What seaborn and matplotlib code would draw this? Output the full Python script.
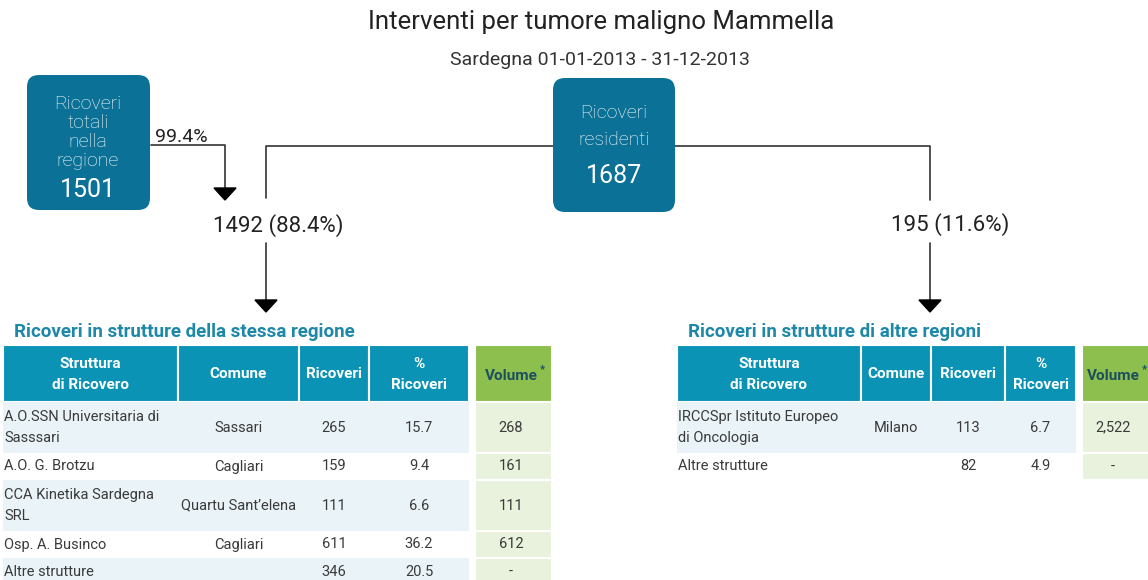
import matplotlib
matplotlib.use("Agg")
import matplotlib.pyplot as plt
from matplotlib.patches import FancyBboxPatch, Rectangle, Polygon
import seaborn as sns

# -----------------------------
# DATA
# -----------------------------
title = "Interventi per tumore maligno Mammella"
subtitle = "Sardegna 01-01-2013 - 31-12-2013"

totale_regione = 1501
pct_regione = 99.4
residenti = 1687
stessa_n = 1492
stessa_pct = 88.4
altre_n = 195
altre_pct = 11.6

header = ["Struttura\ndi Ricovero", "Comune", "Ricoveri", "%\nRicoveri"]

left_struttura = ["A.O.SSN Universitaria di\nSasssari", "A.O. G. Brotzu",
                  "CCA Kinetika Sardegna\nSRL", "Osp. A. Businco", "Altre strutture"]
left_comune = ["Sassari", "Cagliari", "Quartu Sant\u2019elena", "Cagliari", ""]
left_ricoveri = [265, 159, 111, 611, 346]
left_pct = [15.7, 9.4, 6.6, 36.2, 20.5]
left_volume = ["268", "161", "111", "612", "-"]

right_struttura = ["IRCCSpr Istituto Europeo\ndi Oncologia", "Altre strutture"]
right_comune = ["Milano", ""]
right_ricoveri = [113, 82]
right_pct = [6.7, 4.9]
right_volume = ["2,522", "-"]

# -----------------------------
# STYLE
# -----------------------------
sns.set_theme(style="white")
plt.rcParams['font.family'] = ['Roboto', 'DejaVu Sans']

BOX = "#0b7196"
HEAD = "#0a93b5"
GREEN = "#8dbf4e"
GREEN_L = "#e9f2dc"
ROW_L = "#eaf4f8"
TITLE_C = "#1e88a8"
TXT = "#3a3a3a"

fig = plt.figure(figsize=(11.48, 5.80), dpi=100)
ax = fig.add_axes([0, 0, 1, 1])
ax.set_xlim(0, 1148)
ax.set_ylim(580, 0)
ax.axis("off")

# -----------------------------
# TITLES
# -----------------------------
ax.text(601, 22, title, ha="center", va="center", fontsize=18.5, color="#222222")
ax.text(600, 60, subtitle, ha="center", va="center", fontsize=14,
        color="#333333")

# -----------------------------
# FLOW LINES
# -----------------------------
lc = "#333333"


def arrow_head(x, y):
    ax.add_patch(Polygon([[x - 11, y - 12], [x + 11, y - 12], [x, y]],
                         closed=True, color="black", zorder=3))


ax.plot([151, 225, 225], [145, 145, 188], color=lc, lw=1.2)
arrow_head(225, 200)
ax.text(181, 142, f"{pct_regione}%", ha="center", va="baseline",
        fontsize=14, color="#222222")

ax.plot([266, 266, 930, 930], [198, 146, 146, 200], color=lc, lw=1.2, zorder=1)
ax.plot([266, 266], [243, 300], color=lc, lw=1.2)
arrow_head(266, 312)
ax.plot([930, 930], [243, 300], color=lc, lw=1.2)
arrow_head(930, 312)

ax.text(278, 226, f"{stessa_n} ({stessa_pct}%)", ha="center", va="center",
        fontsize=16, color="#222222")
ax.text(950, 225, f"{altre_n} ({altre_pct}%)", ha="center", va="center",
        fontsize=16, color="#222222")

# -----------------------------
# BOXES
# -----------------------------
for x0, y0, w, h in [(27, 75, 123, 135), (553, 78, 122, 134)]:
    ax.add_patch(FancyBboxPatch((x0 + 12, y0 + 12), w - 24, h - 24,
                                boxstyle="round,pad=12", fc=BOX, ec="none",
                                zorder=2))

for i, s in enumerate(["Ricoveri", "totali", "nella", "regione"]):
    ax.text(88, 104 + i * 19, s, ha="center", va="center", fontsize=14,
            color="white", fontweight="light", zorder=3)
ax.text(88, 190, str(totale_regione), ha="center", va="center",
        fontsize=18, color="white", zorder=3)

ax.text(614, 113, "Ricoveri", ha="center", va="center", fontsize=14,
        color="white", fontweight="light", zorder=3)
ax.text(614, 140, "residenti", ha="center", va="center", fontsize=14,
        color="white", fontweight="light", zorder=3)
ax.text(614, 176, str(residenti), ha="center", va="center",
        fontsize=18, color="white", zorder=3)


# -----------------------------
# TABLES
# -----------------------------
def draw_table(x_edges, vol_edge, vol_cx, title_x, names, comuni, ric, pct, vol, label):
    ax.text(title_x, 332, label, ha="left", va="center", fontsize=13.5,
            color=TITLE_C, fontweight="semibold")
    top, head_h = 345, 57
    # header
    for j, htxt in enumerate(header):
        xa, xb = x_edges[j], x_edges[j + 1]
        ax.add_patch(Rectangle((xa, top), xb - xa, head_h, fc=HEAD,
                               ec="white", lw=1.5))
        ax.text((xa + xb) / 2, top + head_h / 2 + 1, htxt, ha="center",
                va="center", fontsize=11, color="white", fontweight="bold",
                linespacing=1.6)
    va_, vb_ = vol_edge
    ax.add_patch(Rectangle((va_, top), vb_ - va_, head_h, fc=GREEN,
                           ec="white", lw=1.5))
    ax.text(vol_cx, top + head_h / 2 + 2, "Volume", ha="center",
            va="center", fontsize=11, color="#1d4f5f", fontweight="bold")
    ax.text(vol_cx + 31, top + 24, "*", ha="center", va="center", fontsize=8,
            color="#1d4f5f", fontweight="bold")

    y = top + head_h
    for i in range(len(names)):
        h = 51 if "\n" in names[i] else 27
        bg = ROW_L if i % 2 == 0 else "white"
        ax.add_patch(Rectangle((x_edges[0], y), x_edges[-1] - x_edges[0], h,
                               fc=bg, ec="none"))
        ax.add_patch(Rectangle((va_, y), vb_ - va_, h, fc=GREEN_L,
                               ec="white", lw=1.5))
        cy = y + h / 2
        ax.text(x_edges[0] + 1, cy, names[i], ha="left", va="center",
                fontsize=10.5, color=TXT, linespacing=1.65)
        cells = [comuni[i], str(ric[i]), f"{pct[i]}"]
        for j, c in enumerate(cells):
            ax.text((x_edges[j + 1] + x_edges[j + 2]) / 2, cy, c,
                    ha="center", va="center", fontsize=10.5, color=TXT)
        ax.text(vol_cx, cy, vol[i], ha="center", va="center",
                fontsize=10.5, color=TXT)
        y += h


draw_table([3, 178, 299, 369, 469], (475, 552), 511, 14,
           left_struttura, left_comune, left_ricoveri, left_pct, left_volume,
           "Ricoveri in strutture della stessa regione")
draw_table([677, 861, 931, 1005, 1076], (1082, 1160), 1113, 688,
           right_struttura, right_comune, right_ricoveri, right_pct,
           right_volume, "Ricoveri in strutture di altre regioni")

fig.savefig("out.png", dpi=100)
